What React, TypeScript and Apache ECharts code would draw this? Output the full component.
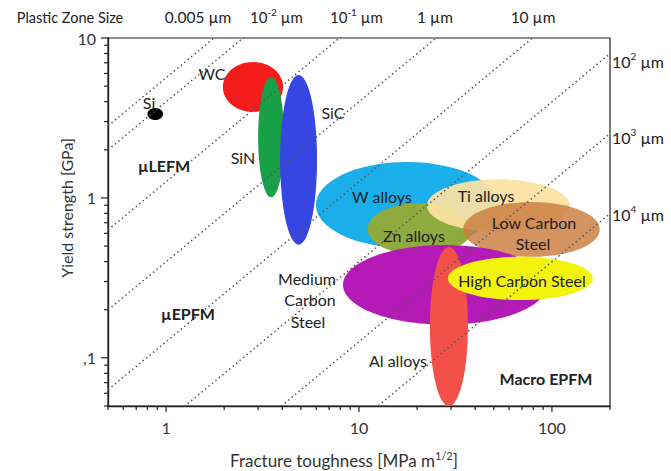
import React, { useEffect, useRef } from "react";
import * as echarts from "echarts";

// ---- Data ----
const materials = [
  "W alloys",
  "WC",
  "SiN",
  "SiC",
  "Si",
  "Zn alloys",
  "Ti alloys",
  "Low Carbon Steel",
  "Medium Carbon Steel",
  "Al alloys",
  "High Carbon Steel",
];
// Fracture toughness range [MPa m^1/2]
const kMin = [5.98, 1.97, 3.0, 3.9, 0.8, 11.1, 22.5, 34.6, 8.26, 23.3, 28.9];
const kMax = [52.5, 4.04, 4.09, 6.06, 0.965, 38.5, 124, 177, 94.2, 36.7, 163];
// Yield strength range [GPa]
const sMin = [0.487, 3.45, 1.01, 0.51, 3.07, 0.44, 0.613, 0.428, 0.161, 0.05, 0.23];
const sMax = [1.68, 7.08, 5.7, 5.87, 3.65, 0.93, 1.31, 0.944, 0.508, 0.494, 0.428];

// Plastic zone size iso-lines [µm]: r = (K/σ)^2 / (2π)
const zoneSizesUm = [0.005, 0.01, 0.1, 1, 10, 100, 1000, 10000];

// Axis ticks
const xMajorTicks = [1, 10, 100];
const xMajorLabels = ["1", "10", "100"];
const xMinorTicks = [0.5, 0.6, 0.7, 0.8, 0.9, 2, 3, 4, 5, 6, 7, 8, 9, 20, 30, 40, 50, 60, 70, 80, 90, 200];
const yMajorTicks = [0.1, 1, 10];
const yMajorLabels = [",1", "1", "10"];
const yMinorTicks = [0.05, 0.06, 0.07, 0.08, 0.09, 0.2, 0.3, 0.4, 0.5, 0.6, 0.7, 0.8, 0.9, 2, 3, 4, 5, 6, 7, 8, 9];

const xRange = [0.5, 200];
const yRange = [0.05, 10];

// ---- Styles ----
const materialColors: Record<string, string> = {
  "W alloys": "#1aaeea",
  WC: "#f41c1c",
  SiN: "#17a045",
  SiC: "#3546e2",
  Si: "#000000",
  "Zn alloys": "#8fab3e",
  "Ti alloys": "rgba(252,226,162,0.93)",
  "Low Carbon Steel": "rgba(201,124,62,0.82)",
  "Medium Carbon Steel": "#b41ab5",
  "Al alloys": "#f4504a",
  "High Carbon Steel": "#f3f30e",
};

const FONT = "Lato";
const lg = Math.log10;

function labelFor(values: number[], labels: string[]) {
  return (v: number) => {
    for (let i = 0; i < values.length; i++) {
      if (Math.abs(lg(values[i]) - v) < 1e-6) return labels[i];
    }
    return "";
  };
}

export default function App() {
  const ref = useRef<HTMLDivElement>(null);

  useEffect(() => {
    if (!ref.current) return;
    const chart = echarts.init(ref.current, null, { renderer: "svg" });

    const ellipseData = materials.map((m, i) => [lg(kMin[i]), lg(kMax[i]), lg(sMin[i]), lg(sMax[i])]);

    // tick items: [axis (0 = x, 1 = y), log value, major (1) / minor (0)]
    const tickData = [
      ...xMajorTicks.map((v) => [0, lg(v), 1]),
      ...xMinorTicks.map((v) => [0, lg(v), 0]),
      ...yMajorTicks.map((v) => [1, lg(v), 1]),
      ...yMinorTicks.map((v) => [1, lg(v), 0]),
    ];

    const isoSeries = zoneSizesUm.map((r) => {
      const denom = Math.sqrt(2 * Math.PI * r * 1e-6) * 1000; // K/σ[GPa]
      return {
        type: "line",
        name: `${r} µm`,
        data: xRange.map((k) => [lg(k), lg(k / denom)]),
        symbol: "none",
        clip: true,
        silent: true,
        z: 4,
        lineStyle: { color: "#555", width: 1.5, type: [1.5, 3] },
      };
    });

    const axisLineStyle = { color: "#222", width: 1.4 };

    const plotText = (text: string, x: number, y: number, bold = false, size = 16) => ({
      type: "text",
      x,
      y,
      z: 20,
      style: {
        text,
        x: 0,
        y: 0,
        align: "center",
        verticalAlign: "middle",
        fill: "#222",
        font: `${bold ? "bold " : ""}${size}px ${FONT}`,
      },
    });

    const richText = (text: string, x: number, y: number, size = 15) => ({
      type: "text",
      x,
      y,
      z: 20,
      style: {
        text,
        align: "left",
        verticalAlign: "middle",
        fill: "#222",
        font: `${size}px ${FONT}`,
        rich: {
          s: { fontSize: 10, fontFamily: FONT, verticalAlign: "top", lineHeight: 20, fill: "#222" },
        },
      },
    });

    chart.setOption({
      animation: false,
      textStyle: { fontFamily: FONT },
      grid: {
        left: 108,
        right: 61,
        top: 38,
        bottom: 65,
        show: true,
        borderColor: "#222",
        borderWidth: 1.2,
        backgroundColor: "transparent",
      },
      xAxis: {
        type: "value",
        min: lg(xRange[0]),
        max: lg(xRange[1]),
        position: "bottom",
        splitLine: { show: false },
        axisLine: { show: true, onZero: false, lineStyle: axisLineStyle },
        axisTick: { show: false },
        axisLabel: {
          customValues: xMajorTicks.map(lg),
          formatter: labelFor(xMajorTicks, xMajorLabels),
          fontSize: 16,
          fontFamily: FONT,
          color: "#333",
          margin: 13,
        },
      },
      yAxis: {
        type: "value",
        min: lg(yRange[0]),
        max: lg(yRange[1]),
        position: "left",
        splitLine: { show: false },
        axisLine: { show: true, onZero: false, lineStyle: axisLineStyle },
        axisTick: { show: false },
        axisLabel: {
          customValues: yMajorTicks.map(lg),
          formatter: labelFor(yMajorTicks, yMajorLabels),
          fontSize: 16,
          fontFamily: FONT,
          color: "#333",
          margin: 12,
        },
      },
      series: [
        {
          type: "custom",
          name: "materials",
          clip: true,
          silent: true,
          z: 2,
          encode: { x: [0, 1], y: [2, 3] },
          data: ellipseData,
          renderItem: (params: any, api: any) => {
            const i = params.dataIndex;
            const p0 = api.coord([api.value(0), api.value(2)]);
            const p1 = api.coord([api.value(1), api.value(3)]);
            return {
              type: "ellipse",
              shape: {
                cx: (p0[0] + p1[0]) / 2,
                cy: (p0[1] + p1[1]) / 2,
                rx: Math.abs(p1[0] - p0[0]) / 2,
                ry: Math.abs(p1[1] - p0[1]) / 2,
              },
              style: { fill: materialColors[materials[i]] },
            };
          },
        },
        {
          type: "custom",
          name: "ticks",
          clip: false,
          silent: true,
          z: 5,
          encode: { x: 1, y: 1 },
          data: tickData,
          renderItem: (params: any, api: any) => {
            const axis = api.value(0);
            const v = api.value(1);
            const major = api.value(2) === 1;
            if (axis === 0) {
              const p = api.coord([v, lg(yRange[0])]);
              const len = major ? 6 : 4;
              return {
                type: "line",
                shape: { x1: p[0], y1: p[1], x2: p[0], y2: p[1] + len },
                style: { stroke: "#222", lineWidth: 1.2 },
              };
            }
            const p = api.coord([lg(xRange[0]), v]);
            const len = major ? 7 : 4;
            return {
              type: "line",
              shape: { x1: p[0] - len, y1: p[1], x2: p[0], y2: p[1] },
              style: { stroke: "#222", lineWidth: 1.2 },
            };
          },
        },
        ...isoSeries,
      ],
      graphic: [
        // top labels
        plotText("Plastic Zone Size", 70, 17, false, 14.5),
        plotText("0.005 µm", 198, 17, false, 15.5),
        richText("10{s|-2} µm", 250, 17),
        richText("10{s|-1} µm", 330, 17),
        plotText("1 µm", 435, 17, false, 15.5),
        plotText("10 µm", 533, 17, false, 15.5),
        // right labels
        richText("10{s|2} µm", 612, 61, 16),
        richText("10{s|3} µm", 612, 137, 16),
        richText("10{s|4} µm", 612, 214, 16),
        // axis titles
        {
          type: "text",
          x: 66,
          y: 208,
          rotation: Math.PI / 2,
          z: 20,
          style: {
            text: "Yield strength [GPa]",
            align: "center",
            verticalAlign: "middle",
            fill: "#333",
            font: `16px ${FONT}`,
          },
        },
        {
          type: "text",
          x: 344,
          y: 460,
          z: 20,
          style: {
            text: "Fracture toughness [MPa m{s|1/2}]",
            align: "center",
            verticalAlign: "middle",
            fill: "#333",
            font: `17px ${FONT}`,
            rich: {
              s: { fontSize: 11, fontFamily: FONT, verticalAlign: "top", lineHeight: 21, fill: "#333" },
            },
          },
        },
        // in-plot labels
        plotText("Si", 149, 102),
        plotText("WC", 212, 73),
        plotText("SiC", 333, 112),
        plotText("SiN", 243, 157),
        plotText("µLEFM", 164, 165, true),
        plotText("µEPFM", 188, 313, true),
        plotText("W alloys", 382, 196),
        plotText("Ti alloys", 486, 195),
        plotText("Zn alloys", 414, 235),
        plotText("Low Carbon", 534, 222),
        plotText("Steel", 533, 243),
        plotText("High Carbon Steel", 522, 280),
        plotText("Medium", 307, 278),
        plotText("Carbon", 310, 299),
        plotText("Steel", 308, 321),
        plotText("Al alloys", 398, 360),
        plotText("Macro EPFM", 546, 378, true),
      ],
    });

    return () => chart.dispose();
  }, []);

  return (
    <div
      ref={ref}
      style={{ position: "absolute", left: 0, top: 0, width: 671, height: 471, background: "#fff" }}
    />
  );
}
